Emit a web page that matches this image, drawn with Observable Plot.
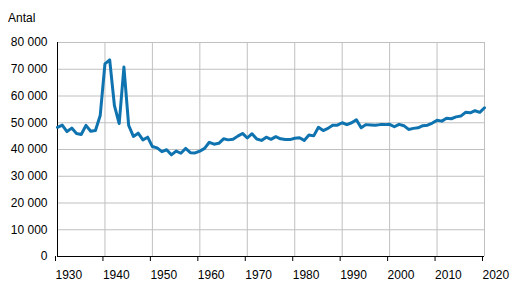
<!DOCTYPE html>
<html><head><meta charset="utf-8">
<script src="https://cdn.jsdelivr.net/npm/d3@7"></script>
<script src="https://cdn.jsdelivr.net/npm/@observablehq/plot@0.6"></script>
<style>
body{margin:0;background:#fff;font-family:"Liberation Sans",Arial,sans-serif}
#c{position:relative;width:513px;height:302px}
#t{position:absolute;left:8px;top:11px;font-size:12px;color:#000}
</style>
</head><body><div id="c"><div id="t">Antal</div></div>
<script>
const years = [1930,1931,1932,1933,1934,1935,1936,1937,1938,1939,
1940,1941,1942,1943,1944,1945,1946,1947,1948,1949,
1950,1951,1952,1953,1954,1955,1956,1957,1958,1959,
1960,1961,1962,1963,1964,1965,1966,1967,1968,1969,
1970,1971,1972,1973,1974,1975,1976,1977,1978,1979,
1980,1981,1982,1983,1984,1985,1986,1987,1988,1989,
1990,1991,1992,1993,1994,1995,1996,1997,1998,1999,
2000,2001,2002,2003,2004,2005,2006,2007,2008,2009,
2010,2011,2012,2013,2014,2015,2016,2017,2018,2019,2020];
const values = [48300,49100,46700,48000,46000,45600,49000,46800,47100,52700,
72000,73500,56400,49700,70800,49000,44900,46100,43600,44600,
41100,40600,39200,39900,38000,39400,38600,40400,38800,38700,
39400,40400,42700,42000,42300,44000,43600,43800,45000,46000,
44300,45900,43900,43400,44600,43800,44800,44000,43700,43700,
44200,44400,43400,45400,45100,48300,47100,47900,49100,49100,
50000,49300,50000,51100,48100,49300,49200,49100,49300,49300,
49400,48500,49400,48900,47500,47900,48100,48900,49100,49900,
50900,50600,51700,51500,52200,52500,53900,53700,54500,53900,55600];
const xTicks = [1930,1940,1950,1960,1970,1980,1990,2000,2010,2020];
const yTicks = [0,10000,20000,30000,40000,50000,60000,70000,80000];

const data = years.map((y, i) => ({year: y, value: values[i]}));
const fmt = d => d3.format(",")(d).replace(/,/g, " ");

const chart = Plot.plot({
  width: 513, height: 302,
  marginLeft: 57, marginRight: 29, marginTop: 42, marginBottom: 46,
  style: {fontFamily: '"Liberation Sans", Arial, sans-serif', fontSize: "12px", color: "#000", background: "#fff"},
  x: {domain: [1930, 2020]},
  y: {domain: [0, 80000]},
  marks: [
    Plot.gridX(xTicks, {stroke: "#c0c0c0", strokeOpacity: 1}),
    Plot.gridY(yTicks, {stroke: "#c0c0c0", strokeOpacity: 1}),
    Plot.axisY(yTicks, {tickSize: 0, tickPadding: 10, tickFormat: fmt, label: null, fontSize: 12}),
    Plot.axisX(xTicks, {tickSize: 5, tickPadding: 9, tickFormat: d => String(d), label: null, textAnchor: "start", dx: -2, fontSize: 12, stroke: "#000"}),
    Plot.ruleX([1930], {stroke: "#000"}),
    Plot.ruleY([0], {stroke: "#000"}),
    Plot.line(data, {x: "year", y: "value", stroke: "#0f73b0", strokeWidth: 3, strokeLinejoin: "round"})
  ]
});
document.getElementById("c").appendChild(chart);
</script>
</body></html>
